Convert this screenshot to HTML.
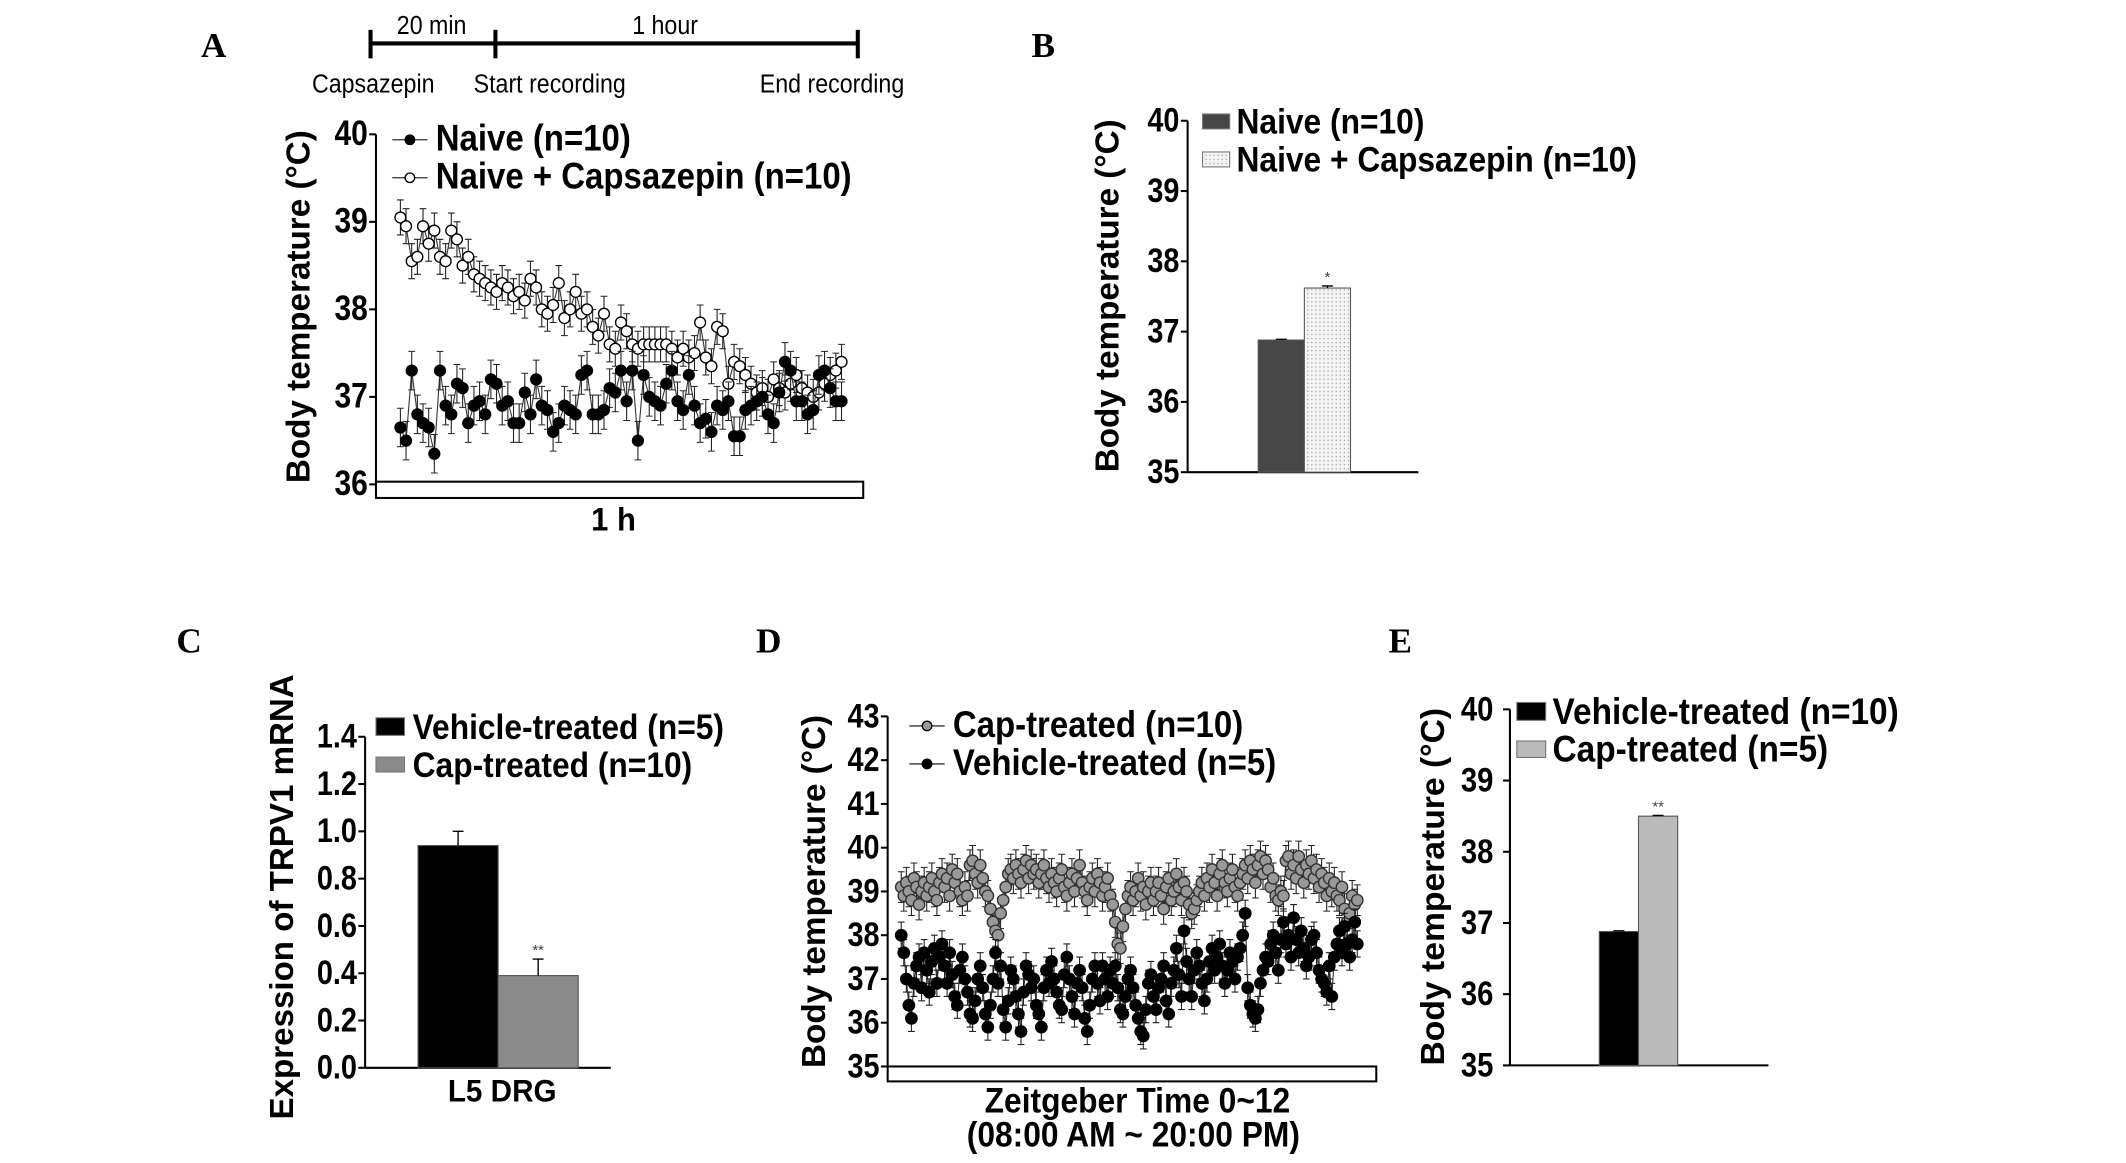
<!DOCTYPE html>
<html><head><meta charset="utf-8"><style>
html,body{margin:0;padding:0;background:#fff;}
svg{display:block;}
text{font-family:"Liberation Sans",Arial,sans-serif;}
.pl{font-family:"Liberation Serif",serif;font-weight:bold;font-size:26px;}
</style></head><body>
<svg id="fig" xmlns="http://www.w3.org/2000/svg" width="2126" height="1163" viewBox="0 0 1546 846" preserveAspectRatio="none">
<defs>
<pattern id="dots" width="3" height="3" patternUnits="userSpaceOnUse"><rect width="3" height="3" fill="#f4f4f4"/><rect width="1" height="1" fill="#aaa"/></pattern>
</defs>
<g id="main" transform="scale(0.987)">
<text class="pl" x="148" y="42">A</text>
<text class="pl" x="760" y="42">B</text>
<text class="pl" x="130" y="481">C</text>
<text class="pl" x="557" y="481">D</text>
<text class="pl" x="1023" y="481">E</text>
<g stroke="#000" stroke-width="3">
<line x1="273" y1="32" x2="632" y2="32"/>
<line x1="273" y1="22" x2="273" y2="43"/>
<line x1="365" y1="22" x2="365" y2="43"/>
<line x1="632" y1="22" x2="632" y2="43"/>
</g>
<g font-size="19" text-anchor="middle">
<text transform="translate(318,25) scale(0.9,1)">20 min</text>
<text transform="translate(490,25) scale(0.9,1)">1 hour</text>
<text transform="translate(275,68) scale(0.9,1)">Capsazepin</text>
<text transform="translate(405,68) scale(0.9,1)">Start recording</text>
<text transform="translate(613,68) scale(0.9,1)">End recording</text>
</g>
<g id="gA"></g>
<g id="gB"></g>
<g id="gC"></g>
<g id="gD"></g>
</g>
<g id="gE"></g>
</svg>
<script>
// ===== Panel A data =====
const capA = [39.05,38.95,38.55,38.6,38.95,38.75,38.9,38.6,38.55,38.9,38.8,38.5,38.6,38.4,38.35,38.3,38.25,38.2,38.3,38.25,38.15,38.2,38.1,38.35,38.25,38.0,37.95,38.05,38.3,37.9,38.0,38.2,37.95,38.0,37.8,37.7,37.95,37.6,37.55,37.85,37.75,37.6,37.55,37.6,37.6,37.6,37.6,37.6,37.55,37.45,37.55,37.45,37.5,37.85,37.45,37.35,37.8,37.75,37.15,37.4,37.35,37.25,37.15,37.05,37.1,37.0,37.2,37.1,37.05,37.15,37.25,37.1,37.05,37.0,37.05,37.15,37.25,37.3,37.4];
const naiveA = [36.65,36.5,37.3,36.8,36.7,36.65,36.35,37.3,36.9,36.8,37.15,37.1,36.7,36.9,36.95,36.8,37.2,37.15,36.9,36.95,36.7,36.7,37.05,36.8,37.2,36.9,36.85,36.6,36.7,36.9,36.85,36.8,37.25,37.3,36.8,36.8,36.85,37.1,37.05,37.3,36.95,37.3,36.5,37.25,37.0,36.95,36.9,37.15,37.3,36.95,36.85,37.25,36.9,36.7,36.75,36.6,36.9,36.85,36.95,36.55,36.55,36.85,36.9,36.95,37.0,36.8,36.7,37.05,37.4,37.3,36.95,36.95,36.8,36.85,37.25,37.3,37.1,36.95,36.95];
const ticksA = [36,37,38,39,40];
// ===== Panel B data =====
const catsB = ["Naive (n=10)","Naive + Capsazepin (n=10)"];
const valsB = [36.88,37.62];
const errB = [0.01,0.03];
const ticksB = [35,36,37,38,39,40];
// ===== Panel C data =====
const catsC = ["Vehicle-treated (n=5)","Cap-treated (n=10)"];
const valsC = [0.94,0.39];
const errC = [0.06,0.07];
const ticksC = [0.0,0.2,0.4,0.6,0.8,1.0,1.2,1.4];
// ===== Panel D data =====
const capD = [39.1,38.9,39.2,39.0,38.8,39.3,39.1,38.7,39.0,39.2,38.9,39.1,39.3,39.0,38.8,39.2,39.4,39.1,39.3,38.9,
39.5,39.2,39.4,39.0,38.8,39.1,38.9,39.6,39.7,39.4,39.2,39.6,39.3,39.0,38.9,38.6,38.3,38.1,38.0,38.5,
38.8,39.1,39.4,39.5,39.3,39.6,39.4,39.2,39.5,39.7,39.3,39.6,39.4,39.5,39.2,39.4,39.6,39.3,39.1,39.4,
39.2,39.0,39.3,39.5,39.1,38.9,39.2,39.4,39.0,39.3,39.6,39.2,39.0,38.8,39.1,39.3,39.0,39.4,39.2,38.9,
39.1,39.3,38.9,38.7,38.3,37.8,37.7,38.2,38.6,38.9,39.1,38.8,39.0,39.3,38.9,39.1,38.7,39.0,39.2,38.8,
39.0,39.2,38.9,38.6,39.1,39.3,38.8,39.0,39.4,39.1,38.8,39.2,39.0,38.7,38.5,38.6,38.8,39.0,39.2,38.9,
39.3,39.1,39.5,39.2,38.9,39.4,39.6,39.2,39.0,39.3,39.5,39.1,38.9,39.2,39.4,39.6,39.3,39.7,39.5,39.2,
39.6,39.8,39.4,39.7,39.5,39.1,39.3,38.9,38.8,39.0,38.9,39.7,39.8,39.4,39.6,39.3,39.8,39.5,39.2,39.6,
39.4,39.7,39.3,39.5,39.1,39.4,39.2,38.9,39.3,39.0,39.2,38.9,38.8,39.1,38.6,38.3,38.5,38.9,38.7,38.8];
const vehD = [38.0,37.6,37.0,36.4,36.1,36.9,37.3,37.5,36.8,37.6,37.2,36.7,37.4,37.7,36.9,37.5,37.8,37.3,36.9,37.6,
37.1,36.6,36.4,37.2,37.5,37.0,36.7,36.2,36.1,36.5,37.0,37.3,36.8,36.2,35.9,36.4,37.0,37.6,36.9,37.3,
36.3,35.9,36.5,37.2,37.0,36.6,36.2,35.8,36.7,37.3,37.1,36.8,37.0,36.4,36.2,35.9,36.8,37.2,36.9,37.4,
37.0,36.7,36.4,36.3,37.1,37.5,37.0,36.6,36.2,36.9,37.2,36.8,36.1,35.8,36.4,37.0,37.3,36.9,36.5,37.3,
37.0,36.6,37.2,36.9,37.3,36.8,36.3,36.2,36.6,37.0,37.2,36.8,36.4,36.1,35.8,35.7,36.3,36.9,37.1,36.6,
36.3,36.8,37.0,37.3,36.5,36.2,36.9,37.2,37.7,37.1,36.6,38.1,37.4,37.0,36.6,37.2,37.6,37.3,36.9,36.5,
37.0,37.4,37.7,37.2,37.5,37.8,37.3,36.9,37.2,37.6,37.4,37.0,37.5,37.7,38.0,38.5,36.8,36.4,36.2,36.1,
36.3,36.9,37.2,37.5,37.4,37.8,38.0,37.6,37.2,37.9,38.3,37.8,38.0,37.5,38.4,37.9,37.6,38.1,37.7,37.3,
37.5,37.9,38.0,37.6,37.2,37.0,36.9,36.7,37.3,36.6,37.5,37.8,38.1,37.6,38.2,37.8,37.5,37.9,38.3,37.8];
const ticksD = [35,36,37,38,39,40,41,42,43];
// ===== Panel E data =====
const catsE = ["Vehicle-treated (n=10)","Cap-treated (n=5)"];
const valsE = [36.88,38.5];
const errE = [0.01,0.01];
const ticksE = [35,36,37,38,39,40];

const NS = "http://www.w3.org/2000/svg";
function mk(parent, tag, attrs, txt){
  const e = document.createElementNS(NS, tag);
  for (const k in attrs) e.setAttribute(k, attrs[k]);
  if (txt !== undefined) e.textContent = txt;
  parent.appendChild(e);
  return e;
}
function T(parent, x, y, str, fs, sx, anchor){
  return mk(parent,'text',{transform:`translate(${x},${y}) scale(${sx},1)`,'text-anchor':anchor||'start','font-size':fs,'font-weight':'bold'},str);
}
function lin(d0,d1,r0,r1){return v => r0 + (v-d0)*(r1-r0)/(d1-d0);}

function yAxis(g, x, y, ticks, fmt, fs, off){
  off = off || 6;
  const ax = mk(g,'line',{x1:x,y1:y(ticks[ticks.length-1]),x2:x,y2:y(ticks[0]),stroke:'#000','stroke-width':1.5});
  
  
  ticks.forEach(t=>{
    const tl = mk(g,'line',{x1:x-5,y1:y(t),x2:x,y2:y(t),stroke:'#000','stroke-width':1.5});
    
    
    const tx = T(g,x-off,y(t)+8,fmt(t),fs,0.85,'end');
    
    
  });
}
function yTitle(g, x, cy, txt, fs){
  const t = mk(g,'text',{x:0,y:0,transform:`translate(${x},${cy}) rotate(-90)`,'text-anchor':'middle','font-size':fs,'font-weight':'bold'},txt);
  
  
}
function series(g, vals, xs, y, fill, stroke, r, err, name){
  const sg = mk(g,'g',{});
  
  
  let d='';
  vals.forEach((v,i)=>{ d += (i?'L':'M')+xs(i)+' '+y(v); });
  mk(sg,'path',{d:d,fill:'none',stroke:'#333','stroke-width':0.8});
  vals.forEach((v,i)=>{
    const x = xs(i), e1=y(v+err), e2=y(v-err);
    mk(sg,'path',{d:`M${x} ${e1}L${x} ${e2}M${x-2.5} ${e1}L${x+2.5} ${e1}M${x-2.5} ${e2}L${x+2.5} ${e2}`,stroke:'#222','stroke-width':0.8,fill:'none'});
  });
  vals.forEach((v,i)=>{
    const c = mk(sg,'circle',{cx:xs(i),cy:y(v),r:r,fill:fill,stroke:stroke,'stroke-width':1});
    
    
  });
}
function legendLine(g,x,y,fill,label,fs){
  const lg = mk(g,'g',{});
  
  
  mk(lg,'line',{x1:x,y1:y,x2:x+26,y2:y,stroke:'#333','stroke-width':1});
  mk(lg,'circle',{cx:x+13,cy:y,r:3.5,fill:fill,stroke:'#000','stroke-width':1});
  T(lg,x+32,y+8,label,fs,0.9);
}
function legendBox(g,x,y,w,h,fill,label,fs,tx){
  const lg = mk(g,'g',{});
  
  
  mk(lg,'rect',{x:x,y:y,width:w,height:h,fill:fill,stroke:'#777','stroke-width':0.8});
  T(lg,tx!==undefined?tx:x+w+5,y+h/2+9,label,fs,0.9);
}

// ---- Panel A ----
(function(){
  const g = document.getElementById('gA');
  const y = lin(36,40,357,99);
  yAxis(g,277,y,ticksA,t=>String(t),26);
  yTitle(g,228,226,'Body temperature (°C)',24.5);
  const box = mk(g,'rect',{x:277,y:355,width:359,height:12,fill:'#fff',stroke:'#000','stroke-width':1.5});
  
  
  const xl = T(g,452,391,'1 h',24,0.95,'middle');
  
  
  const xs = lin(0,capA.length-1,295,620);
  series(g,capA,xs,y,'#fff','#000',4,0.2,'series-naive-capsazepin');
  const xs2 = lin(0,naiveA.length-1,295,620);
  series(g,naiveA,xs2,y,'#000','#000',4,0.22,'series-naive');
  legendLine(g,289,103,'#000','Naive (n=10)',27);
  legendLine(g,289,131,'#fff','Naive + Capsazepin (n=10)',27);
})();

function bars(g, cats, vals, errs, xL, w, y, fills, base, name, stars){
  vals.forEach((v,i)=>{
    const x = xL + i*w;
    const r = mk(g,'rect',{x:x,y:y(v),width:w,height:y(base)-y(v),fill:fills[i],stroke:'#555','stroke-width':0.8});
    
    
    const cx = x+w/2, e=y(v+errs[i]);
    mk(g,'path',{d:`M${cx} ${y(v)}L${cx} ${e}M${cx-4} ${e}L${cx+4} ${e}`,stroke:'#000','stroke-width':1,fill:'none'});
    if (stars[i]) {
      const s = mk(g,'text',{x:cx,y:e-3,'text-anchor':'middle','font-size':11,fill:'#444'},stars[i]);
      
      
    }
  });
}

// ---- Panel B ----
(function(){
  const g = document.getElementById('gB');
  const y = lin(35,40,348,89);
  yAxis(g,875,y,ticksB,t=>String(t),25);
  mk(g,'line',{x1:875,y1:348,x2:1045,y2:348,stroke:'#000','stroke-width':1.5});
  yTitle(g,824,218,'Body temperature (°C)',24.5);
  bars(g,catsB,valsB,errB,927,34,y,['#474747','url(#dots)'],35,'b',['','*']);
  legendBox(g,886,84,20,11,'#474747',catsB[0],26,911);
  legendBox(g,886,112,20,11,'url(#dots)',catsB[1],26,911);
})();

// ---- Panel C ----
(function(){
  const g = document.getElementById('gC');
  const y = lin(0,1.4,787,543);
  yAxis(g,269,y,ticksC,t=>t.toFixed(1),25);
  mk(g,'line',{x1:269,y1:787,x2:450,y2:787,stroke:'#000','stroke-width':1.5});
  yTitle(g,216,661,'Expression of TRPV1 mRNA',24.4);
  bars(g,catsC,valsC,errC,308,59,y,['#000','#8a8a8a'],0,'c',['','**']);
  const xl = T(g,370,812,'L5 DRG',23,0.95,'middle');
  
  
  legendBox(g,277,529,21,13,'#000',catsC[0],26,304);
  legendBox(g,277,558,21,11,'#8a8a8a',catsC[1],26,304);
})();

// ---- Panel D ----
(function(){
  const g = document.getElementById('gD');
  const y = lin(35,43,786,528);
  yAxis(g,654,y,ticksD,t=>String(t),25);
  yTitle(g,608,657,'Body temperature (°C)',24.5);
  const box = mk(g,'rect',{x:654,y:786,width:360,height:11,fill:'#fff',stroke:'#000','stroke-width':1.5});
  
  
  const t1 = T(g,838,820,'Zeitgeber Time 0~12',26,0.9,'middle');
  
  
  const t2 = T(g,835,845,'(08:00 AM ~ 20:00 PM)',26,0.9,'middle');
  
  
  const xs = lin(0,capD.length-1,664,1000);
  series(g,capD,xs,y,'#999','#333',4.2,0.35,'series-cap-treated');
  const xs2 = lin(0,vehD.length-1,664,1000);
  series(g,vehD,xs2,y,'#000','#000',4.2,0.3,'series-vehicle-treated');
  legendLine(g,670,535,'#999','Cap-treated (n=10)',27);
  legendLine(g,670,563,'#000','Vehicle-treated (n=5)',27);
})();

// ---- Panel E (absolute coordinates) ----
(function(){
  const g = document.getElementById('gE');
  const y = lin(35,40,775,516);
  yAxis(g,1098,y,ticksE,t=>String(t),25,12);
  mk(g,'line',{x1:1098,y1:775,x2:1286,y2:775,stroke:'#000','stroke-width':1.5});
  yTitle(g,1050,645,'Body temperature (°C)',24.5);
  bars(g,catsE,valsE,errE,1163,28.5,y,['#000','#bbbbbb'],35,'e',['','**']);
  legendBox(g,1103,511,21,13,'#000',catsE[0],27,1129);
  legendBox(g,1103,539,21,12,'#bbbbbb',catsE[1],27,1129);
})();
</script>
</body></html>
